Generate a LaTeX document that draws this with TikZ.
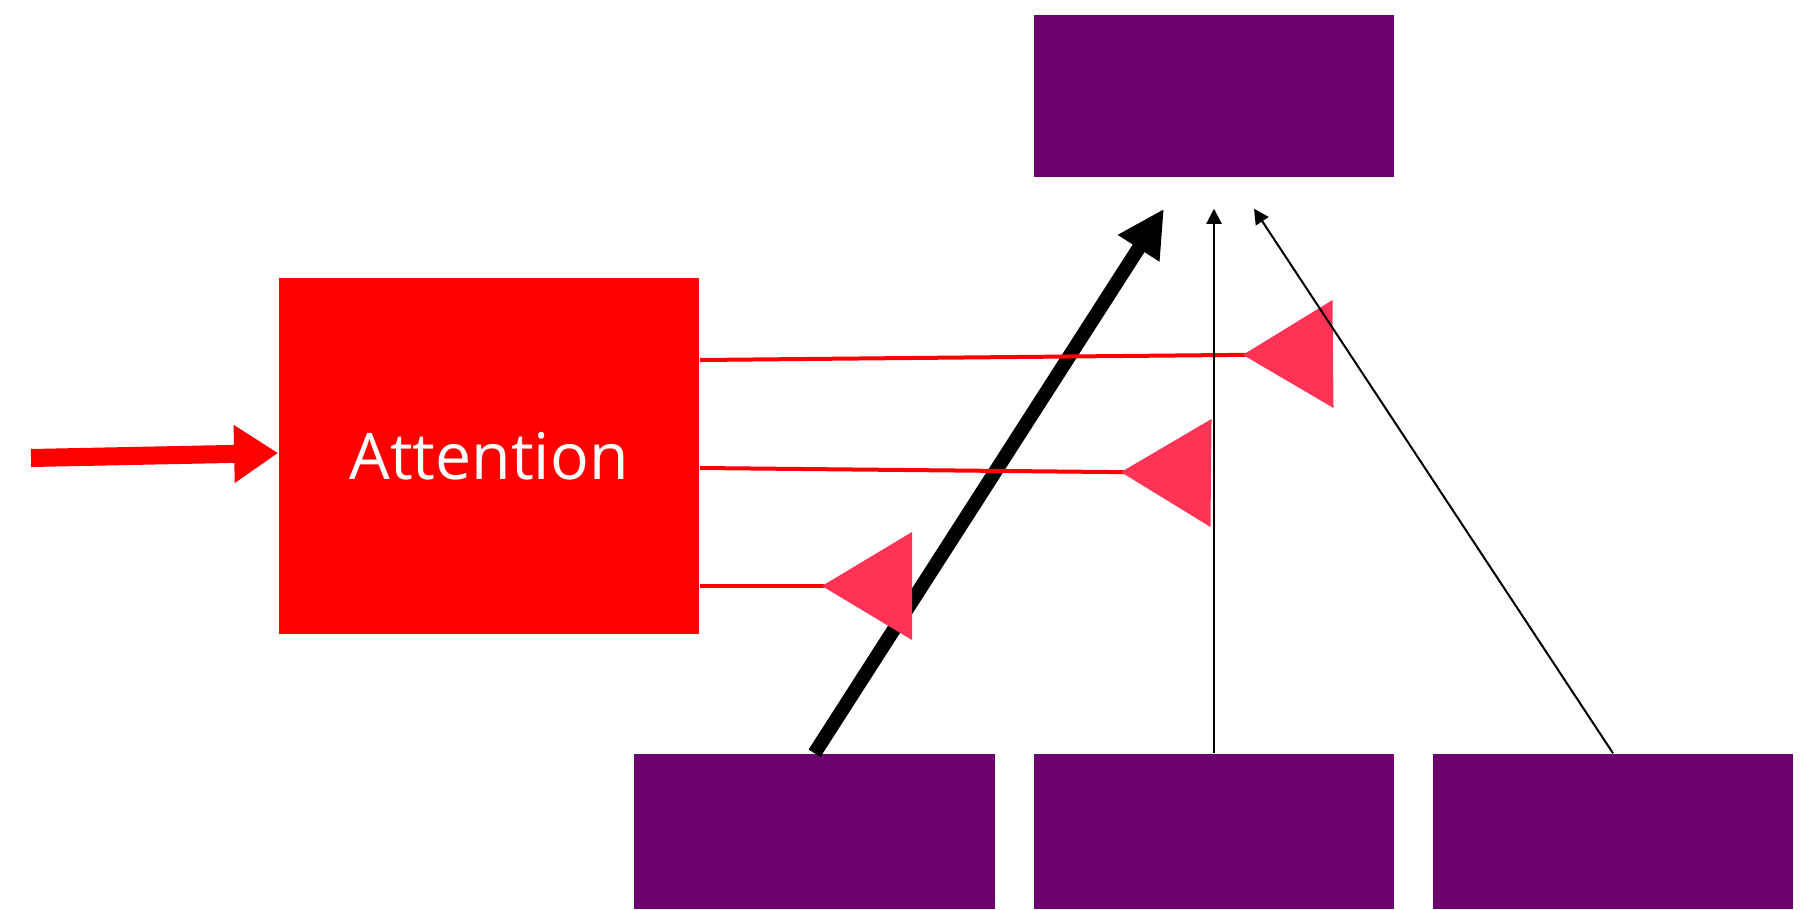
\documentclass[tikz,border=0pt]{standalone}
\usepackage{fontspec}
\setmainfont{Open Sans}
\usetikzlibrary{arrows.meta}
\definecolor{boxPurple}{RGB}{108, 0, 108}
\definecolor{tipPink}{RGB}{255, 51, 85}

\begin{document}
\begin{tikzpicture}[x=0.01cm, y=-0.01cm,
    block/.style={fill=boxPurple, inner sep=0pt, minimum width=3.6cm, minimum height=1.55cm},
    attlink/.style={red, line width=0.04cm,
      -{Triangle[reversed, length=0.9cm, width=1.07cm, color=tipPink, fill=tipPink]}},
    thinlink/.style={line width=0.02cm, -{Triangle[length=0.15cm, width=0.15cm]}}]
  \useasboundingbox (0,0) rectangle (1815,909);
  % boxes
  \node[block, minimum height=1.62cm] (out) at (1214,96) {};
  \node[block] (v1) at (814.5,831.5) {};
  \node[block] (v2) at (1214,831.5) {};
  \node[block] (v3) at (1613,831.5) {};
  \node[fill=red, inner sep=0pt, minimum width=4.2cm, minimum height=3.56cm,
    text=white, font=\fontsize{18.3}{22}\selectfont] (attn) at (489,456) {Attention};
  % input
  \coordinate (in) at (31,458);
  \draw[red, line width=0.18cm, -{Triangle[length=0.44cm, width=0.55cm]}]
    (in) -- ([shift={(0,-3)}]attn.west);
  % thick arrow
  \draw[line width=0.14cm, -{Triangle[length=0.47cm, width=0.46cm]}]
    (v1.north) -- ([shift={(-50,31)}]out.south);
  % attention links
  \coordinate (w1) at (1333,354);
  \coordinate (w2) at (1211,473);
  \coordinate (w3) at (912,586);
  \draw[attlink] ([shift={(0,-96)}]attn.east) -- (w1);
  \draw[attlink] ([shift={(0,12)}]attn.east) -- (w2);
  \draw[attlink] ([shift={(0,130)}]attn.east) -- (w3);
  % thin arrows
  \draw[thinlink] (v2.north) -- ([shift={(0,31)}]out.south);
  \draw[thinlink] (v3.north) -- ([shift={(40,31)}]out.south);
\end{tikzpicture}
\end{document}
